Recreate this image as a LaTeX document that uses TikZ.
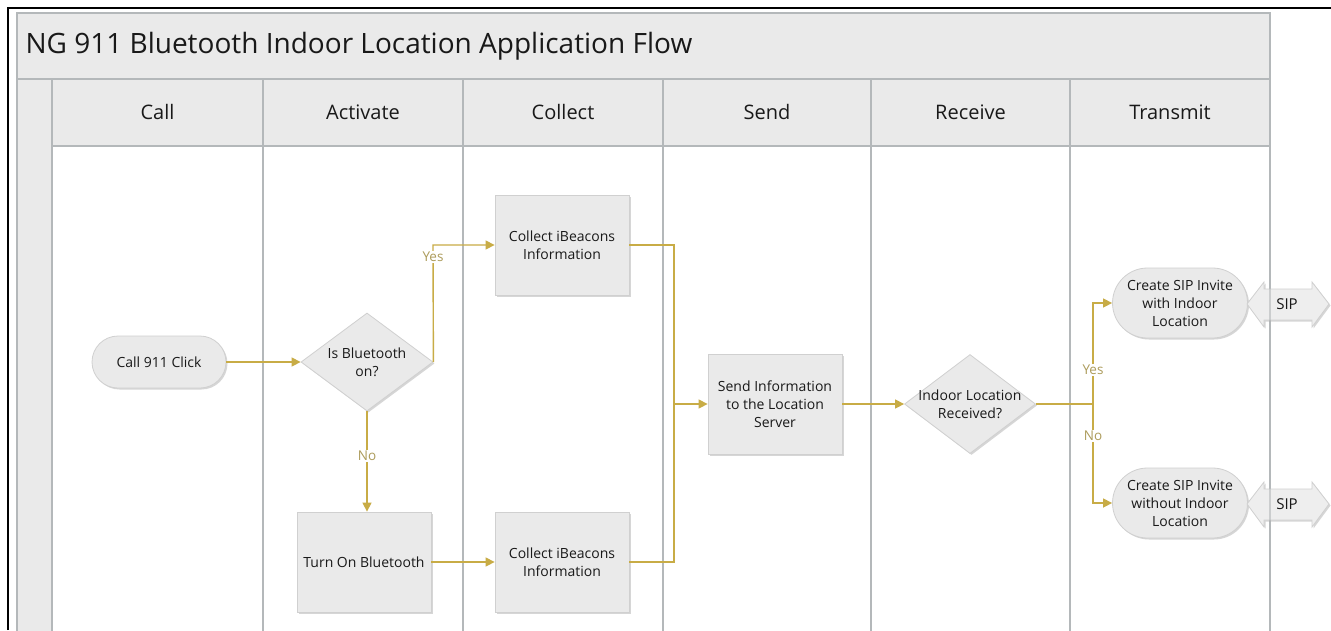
\documentclass[tikz,border=0pt]{standalone}
\usepackage{fontspec}
\setmainfont{Open Sans}
\usetikzlibrary{shapes.geometric,arrows.meta,shadows}
\definecolor{flowc}{RGB}{200,172,70}
\definecolor{lblc}{RGB}{172,155,90}
\definecolor{poolfill}{RGB}{234,234,234}
\definecolor{laneline}{RGB}{180,184,186}
\definecolor{nodefill}{RGB}{234,234,234}
\definecolor{nodeline}{RGB}{208,208,208}
\definecolor{txtc}{RGB}{25,25,25}
\tikzset{
  flow/.style={draw=flowc, line width=1.4pt, -{Triangle[length=9pt,width=9pt]}},
  flowline/.style={draw=flowc, line width=1.4pt},
  nodeshadow/.style={drop shadow={shadow xshift=1.5pt, shadow yshift=-1.5pt, fill=black!35, opacity=0.45}},
  nodefont/.style={font=\fontsize{14}{18}\selectfont},
  procbox/.style={rectangle, fill=nodefill, draw=nodeline, line width=0.8pt, minimum width=134pt, minimum height=100pt, align=center, text=txtc, nodefont, nodeshadow},
  decbox/.style={diamond, fill=nodefill, draw=nodeline, line width=0.8pt, minimum width=132pt, minimum height=98pt, inner sep=0pt, nodeshadow},
  dectext/.style={label={[align=center, text=txtc, nodefont]center:#1}},
  termbox/.style={rectangle, rounded corners=#1, fill=nodefill, draw=nodeline, line width=0.8pt, minimum width=135pt, minimum height=2*#1, align=center, text=txtc, nodefont, nodeshadow},
  lanehead/.style={text=txtc, font=\fontsize{20}{22}\selectfont},
  flowlabel/.style={fill=white, inner sep=1pt, text=lblc, font=\fontsize{13.5}{15}\selectfont},
  sipshape/.style={fill=nodefill!80!white, draw=nodeline, line width=0.8pt, nodeshadow},
  lanerule/.style={draw=laneline, line width=1.6pt},
}
\begin{document}
\begin{tikzpicture}[x=1pt,y=-1pt]
\useasboundingbox (0,0) rectangle (1331,630);
\begin{scope}
\clip (0,0) rectangle (1331,630);
% pool
\fill[white] (0,0) rectangle (1331,630);
\path[fill=poolfill, draw=laneline, line width=1.6pt] (17,13) rectangle (1270,660);
\fill[white] (52,146) rectangle (1270,660);
\draw[lanerule] (17,79) -- (1270,79);
\draw[lanerule] (52,146) -- (1270,146);
\foreach \xx in {52,263,463,663,871,1070,1270}{
  \draw[lanerule] (\xx,79) -- (\xx,660);
}
\node[anchor=west, text=txtc, font=\fontsize{28}{30}\selectfont] (title) at (22,46) {NG 911 Bluetooth Indoor Location Application Flow};
\node[lanehead] (hcall) at (157.5,112) {Call};
\node[lanehead] (hact) at (363,112) {Activate};
\node[lanehead] (hcol) at (563,112) {Collect};
\node[lanehead] (hsend) at (767,112) {Send};
\node[lanehead] (hrec) at (970.5,112) {Receive};
\node[lanehead] (htra) at (1170,112) {Transmit};

% nodes
\node[termbox=26pt, minimum width=134pt] (call) at (159,362) {Call 911 Click};
\node[decbox, dectext={Is Bluetooth\\on?}] (isbt) at (367,362) {};
\node[procbox] (col1) at (562,245) {Collect iBeacons\\Information};
\node[procbox] (turn) at (364,562) {Turn On Bluetooth};
\node[procbox] (col2) at (562,562) {Collect iBeacons\\Information};
\node[procbox] (send) at (775,404) {Send Information\\to the Location\\Server};
\node[decbox, minimum width=131pt, minimum height=99pt, dectext={Indoor Location\\Received?}] (rec) at (970,404) {};
\node[termbox=35pt] (sip1) at (1180,303) {Create SIP Invite\\with Indoor\\Location};
\node[termbox=35pt] (sip2) at (1180,503) {Create SIP Invite\\without Indoor\\Location};

% SIP arrows
\path[sipshape] (1247,304) -- (1264,282) -- (1264,289) -- (1312,289) -- (1312,282) -- (1329,304) -- (1312,327) -- (1312,320) -- (1264,320) -- (1264,327) -- cycle;
\path[sipshape] (1247,504) -- (1264,482) -- (1264,489) -- (1312,489) -- (1312,482) -- (1329,504) -- (1312,527) -- (1312,520) -- (1264,520) -- (1264,527) -- cycle;
\draw[draw=laneline, line width=1.2pt, opacity=0.6] (1270,280) -- (1270,330) (1270,480) -- (1270,530);
\node[text=txtc, font=\fontsize{15}{17}\selectfont] (sipa) at (1287,304) {SIP};
\node[text=txtc, font=\fontsize{15}{17}\selectfont] (sipb) at (1287,504) {SIP};

% connectors
\coordinate (jy) at (433,245);
\coordinate (jm) at (674,404);
\coordinate (jr) at (1093,404);
\draw[flow] (call.east) -- (isbt.west);
\draw[flow] (isbt.east) -- (jy) -- (col1.west);
\draw[flow] (isbt.south) -- (isbt.south |- turn.north);
\draw[flow] (turn.east) -- (col2.west);
\draw[flowline] (col1.east) -| (jm);
\draw[flowline] (col2.east) -| (jm);
\draw[flow] (jm) -- (send.west);
\draw[flow] (send.east) -- (rec.west);
\draw[flowline] (rec.east) -- (jr);
\draw[flow] (jr) |- (sip1.west);
\draw[flow] (jr) |- (sip2.west);
\node[flowlabel] (lyes1) at (433,257) {Yes};
\node[flowlabel] (lno1) at (367,456) {No};
\node[flowlabel] (lyes2) at (1093,370) {Yes};
\node[flowlabel] (lno2) at (1093,436) {No};
\end{scope}
% outer black frame
\draw[black, line width=2pt] (8,630) -- (8,8) -- (1331,8);
\end{tikzpicture}
\end{document}
